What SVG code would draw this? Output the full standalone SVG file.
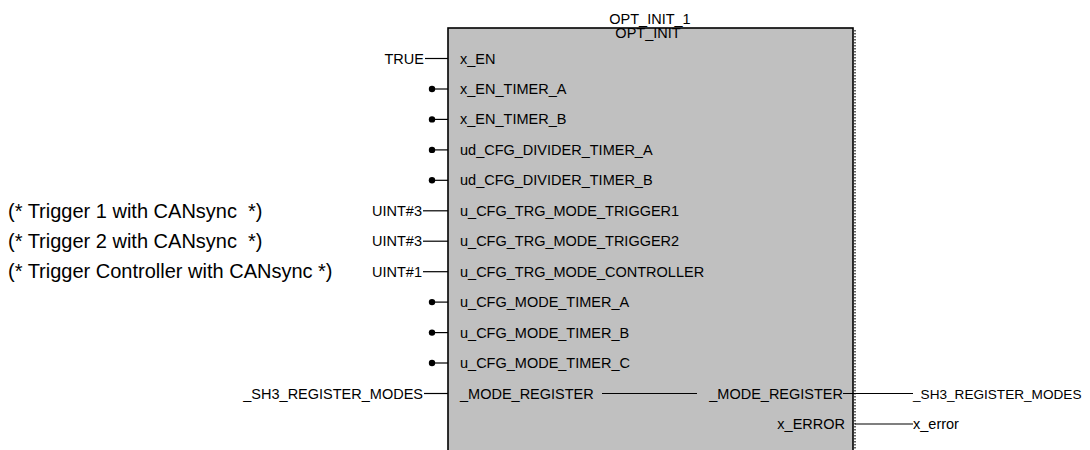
<svg xmlns="http://www.w3.org/2000/svg" width="1090" height="450" viewBox="0 0 1090 450">
<style>
text{font-family:"Liberation Sans",Arial,sans-serif;font-size:14.5px;fill:#000}
.c{font-size:20px;white-space:pre}
.r{text-anchor:end}
.m{text-anchor:middle}
.w{stroke:#000;stroke-width:1.2;fill:none}
</style>
<defs>
<circle id="dot" r="3.2" fill="#000"/>
</defs>
<rect x="0" y="0" width="1090" height="450" fill="#fff"/>
<g id="comments">
<text class="c" x="8" y="218" xml:space="preserve">(* Trigger 1 with CANsync  *)</text>
<text class="c" x="8" y="248" xml:space="preserve">(* Trigger 2 with CANsync  *)</text>
<text class="c" x="8" y="278">(* Trigger Controller with CANsync *)</text>
</g>
<g id="block">
<text class="m" x="650" y="23.5">OPT_INIT_1</text>
<rect x="448" y="28" width="405" height="430" fill="#c0c0c0" stroke="#000" stroke-width="1.6"/>
<line x1="855" y1="30" x2="855" y2="450" stroke="#333" stroke-width="1.5" stroke-dasharray="1.5,1.5"/>
<text class="m" x="648" y="37.5">OPT_INIT</text>
<text x="460" y="63.5">x_EN</text>
<text x="460" y="94">x_EN_TIMER_A</text>
<text x="460" y="124.4">x_EN_TIMER_B</text>
<text x="460" y="154.9">ud_CFG_DIVIDER_TIMER_A</text>
<text x="460" y="185.3">ud_CFG_DIVIDER_TIMER_B</text>
<text x="460" y="215.8">u_CFG_TRG_MODE_TRIGGER1</text>
<text x="460" y="246.2">u_CFG_TRG_MODE_TRIGGER2</text>
<text x="460" y="276.7">u_CFG_TRG_MODE_CONTROLLER</text>
<text x="460" y="307.1">u_CFG_MODE_TIMER_A</text>
<text x="460" y="337.6">u_CFG_MODE_TIMER_B</text>
<text x="460" y="368">u_CFG_MODE_TIMER_C</text>
<text x="460" y="398.5">_MODE_REGISTER</text>
<text class="r" x="843" y="398.5">_MODE_REGISTER</text>
<text class="r" x="845" y="429">x_ERROR</text>
</g>
<g id="inputs">
<text class="r" x="424" y="63.5">TRUE</text>
<text class="r" x="422" y="215.8">UINT#3</text>
<text class="r" x="422" y="246.2">UINT#3</text>
<text class="r" x="422" y="276.7">UINT#1</text>
<text class="r" x="423" y="398.5">_SH3_REGISTER_MODES</text>
</g>
<g id="outputs">
<text x="913" y="398.5" style="font-size:13.6px">_SH3_REGISTER_MODES</text>
<text x="913" y="429">x_error</text>
</g>
<g id="connectors">
<line class="w" x1="425" y1="58.5" x2="448" y2="58.5"/>
<line class="w" x1="432" y1="89" x2="448" y2="89"/>
<line class="w" x1="432" y1="119.4" x2="448" y2="119.4"/>
<line class="w" x1="432" y1="149.9" x2="448" y2="149.9"/>
<line class="w" x1="432" y1="180.3" x2="448" y2="180.3"/>
<line class="w" x1="423" y1="210.8" x2="448" y2="210.8"/>
<line class="w" x1="423" y1="241.2" x2="448" y2="241.2"/>
<line class="w" x1="423" y1="271.7" x2="448" y2="271.7"/>
<line class="w" x1="432" y1="302.1" x2="448" y2="302.1"/>
<line class="w" x1="432" y1="332.6" x2="448" y2="332.6"/>
<line class="w" x1="432" y1="363" x2="448" y2="363"/>
<line class="w" x1="424" y1="393.5" x2="448" y2="393.5"/>
<line class="w" x1="602" y1="393.5" x2="697" y2="393.5"/>
<line class="w" x1="843" y1="393.5" x2="913" y2="393.5"/>
<line class="w" x1="855" y1="424" x2="913" y2="424"/>
<use href="#dot" x="432" y="89"/>
<use href="#dot" x="432" y="119.4"/>
<use href="#dot" x="432" y="149.9"/>
<use href="#dot" x="432" y="180.3"/>
<use href="#dot" x="432" y="302.1"/>
<use href="#dot" x="432" y="332.6"/>
<use href="#dot" x="432" y="363"/>
</g>
</svg>
